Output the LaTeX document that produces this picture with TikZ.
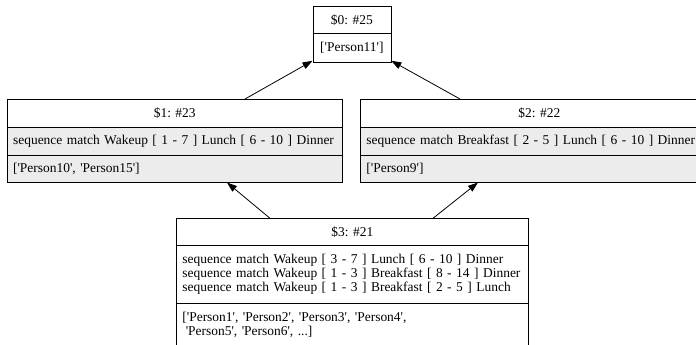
\documentclass[tikz,border=0pt]{standalone}
\usepackage{fontspec}
\setmainfont[Ligatures=TeXOff]{Liberation Serif}
\usetikzlibrary{arrows.meta}
\definecolor{recgray}{RGB}{236,236,236}
\begin{document}
\begin{tikzpicture}[x=1pt,y=-1pt,
  cell/.style={draw=black, line width=0.8pt, anchor=north west, inner xsep=6pt, inner ysep=0pt,
    font=\rmfamily\fontsize{13.45}{13.8}\selectfont},
  head/.style={cell, fill=white, align=center},
  plain/.style={cell, fill=white, align=left},
  shaded/.style={cell, fill=recgray, align=left},
  link/.style={-{Triangle[length=10pt,width=7pt]}, line width=0.8pt}
]
\useasboundingbox (0,0) rectangle (696,345);

% record $0
\node[head, minimum width=78, minimum height=27.3] (t0) at (312.5,6) {\$0: \#25};
\node[head, minimum width=78, minimum height=28.4] (r0) at (312.5,33.3) {['Person11']};

% record $1
\node[head, minimum width=335.3, minimum height=27.7] (t1) at (6.7,99) {\$1: \#23};
\node[shaded, minimum width=335.3, minimum height=28.3, text width=323.3] (b1) at (6.7,126.7)
  {\mbox{sequence match Wakeup [ 1 - 7 ] Lunch [ 6 - 10 ] Dinner}};
\node[shaded, minimum width=335.3, minimum height=26.7, text width=323.3] (c1) at (6.7,155)
  {\mbox{['Person10', 'Person15']}};

% record $2
\node[head, minimum width=358, minimum height=27.7] (t2) at (360,99) {\$2: \#22};
\node[shaded, minimum width=358, minimum height=28.3, text width=346] (b2) at (360,126.7)
  {\mbox{sequence match Breakfast [ 2 - 5 ] Lunch [ 6 - 10 ] Dinner}};
\node[shaded, minimum width=358, minimum height=26.7, text width=346] (c2) at (360,155)
  {\mbox{['Person9']}};

% record $3
\node[head, minimum width=352, minimum height=26.7] (t3) at (176,218.3) {\$3: \#21};
\node[plain, minimum width=352, minimum height=58, text width=340] (b3) at (176,245)
  {\mbox{sequence match Wakeup [ 3 - 7 ] Lunch [ 6 - 10 ] Dinner}\\
   \mbox{sequence match Wakeup [ 1 - 3 ] Breakfast [ 8 - 14 ] Dinner}\\
   \mbox{sequence match Wakeup [ 1 - 3 ] Breakfast [ 2 - 5 ] Lunch}};
\node[plain, minimum width=352, minimum height=43, text width=340] (c3) at (176,303)
  {\mbox{['Person1', 'Person2', 'Person3', 'Person4',}\\
   \mbox{\hspace*{3.4pt}'Person5', 'Person6', ...]}};

% edges
\draw[link] ([xshift=238.3pt]t1.north west) -- ([yshift=1.7pt]r0.south west);
\draw[link] ([xshift=100pt]t2.north west) -- ([yshift=1.7pt]r0.south east);
\draw[link] ([xshift=94pt]t3.north west) -- ([xshift=220.3pt]c1.south west);
\draw[link] ([xshift=257pt]t3.north west) -- ([xshift=118pt]c2.south west);
\end{tikzpicture}
\end{document}
